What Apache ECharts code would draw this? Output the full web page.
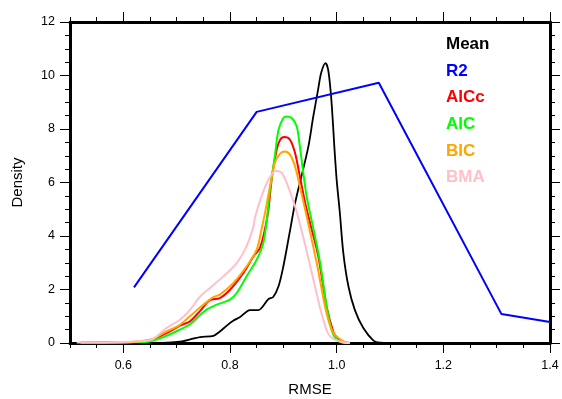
<!DOCTYPE html>
<html>
<head>
<meta charset="utf-8">
<script src="https://cdn.jsdelivr.net/npm/echarts@6/dist/echarts.min.js"></script>
<style>
html,body{margin:0;padding:0;background:#fff;}
#chart{width:562px;height:399px;}
</style>
</head>
<body>
<div id="chart"></div>
<script>
// ---- data ----
const seriesNames = ['Mean', 'R2', 'AICc', 'AIC', 'BIC', 'BMA'];
const xMajorTicks = [0.6, 0.8, 1.0, 1.2, 1.4];

const meanData = [[0.52,0],[0.6,0],[0.66,0],[0.69,0.02],[0.71,0.06],[0.731,0.16],[0.744,0.22],[0.769,0.27],[0.781,0.43],[0.794,0.65],[0.806,0.83],[0.819,0.97],[0.8375,1.23],[0.853,1.23],[0.872,1.64],[0.881,1.72],[0.891,2.12],[0.9,2.86],[0.9125,4.2],[0.922,5.23],[0.934,6.23],[0.947,7.35],[0.956,8.45],[0.965,9.45],[0.971,10.1],[0.979,10.46],[0.984,10.22],[0.989,9.35],[0.9926,8.35],[0.9956,7.35],[1.0,6.1],[1.006,4.86],[1.0125,3.36],[1.022,2.12],[1.034,1.24],[1.05,0.56],[1.069,0.09],[1.081,0.01],[1.1,0]];

const r2Data = [[0.62,2.08],[0.85,8.64],[1.079,9.73],[1.309,1.08],[1.4,0.785]];

const aiccData = [[0.52,0.01],[0.575,0.02],[0.6125,0.03],[0.65,0.1],[0.681,0.37],[0.706,0.65],[0.725,0.81],[0.744,1.2],[0.762,1.6],[0.781,1.68],[0.8,1.99],[0.825,2.62],[0.844,3.24],[0.856,3.55],[0.866,4.3],[0.872,4.98],[0.878,6.1],[0.8876,7.23],[0.894,7.6],[0.902,7.7],[0.9125,7.6],[0.922,7.1],[0.931,6.23],[0.941,5.23],[0.95,4.5],[0.9656,3.24],[0.981,1.37],[0.994,0.4],[1.0,0.22],[1.012,0.02],[1.025,0]];

const aicData = [[0.52,0.01],[0.575,0.01],[0.6125,0.02],[0.65,0.06],[0.681,0.27],[0.706,0.5],[0.725,0.7],[0.744,1.05],[0.756,1.25],[0.769,1.38],[0.787,1.52],[0.8,1.62],[0.8126,1.87],[0.831,2.49],[0.85,3.11],[0.8624,3.74],[0.869,4.6],[0.875,5.73],[0.884,6.98],[0.891,7.97],[0.9,8.41],[0.906,8.47],[0.9157,8.41],[0.925,8.1],[0.931,7.35],[0.9374,6.36],[0.944,5.45],[0.956,4.3],[0.969,3.0],[0.981,1.4],[0.991,0.45],[1.0,0.12],[1.01,0.02],[1.025,0]];

const bicData = [[0.52,0.02],[0.575,0.02],[0.6125,0.04],[0.65,0.12],[0.681,0.43],[0.706,0.68],[0.725,1.0],[0.75,1.43],[0.769,1.72],[0.781,1.81],[0.806,2.24],[0.831,2.86],[0.85,3.49],[0.859,4.24],[0.866,4.9],[0.875,5.85],[0.884,6.73],[0.894,7.08],[0.903,7.16],[0.9125,7.04],[0.922,6.6],[0.931,5.85],[0.941,4.98],[0.9626,2.99],[0.981,1.12],[0.994,0.37],[1.0125,0.06],[1.025,0]];

const bmaData = [[0.5126,0.02],[0.556,0.02],[0.6125,0.05],[0.65,0.1],[0.681,0.56],[0.706,0.87],[0.725,1.24],[0.744,1.74],[0.7625,2.06],[0.7874,2.49],[0.8126,2.99],[0.831,3.61],[0.844,4.36],[0.847,4.7],[0.859,5.48],[0.872,6.1],[0.886,6.44],[0.897,6.36],[0.909,5.85],[0.922,5.11],[0.9374,3.95],[0.956,2.4],[0.969,1.3],[0.975,0.87],[0.984,0.35],[0.994,0.15],[1.0125,0.02],[1.025,0]];

const seriesColors = ['#000000', '#0000ff', '#ff0000', '#00ff00', '#ffa500', '#ffc0cb'];
const seriesData = [meanData, r2Data, aiccData, aicData, bicData, bmaData];

// ---- chart ----
const FONT = '"Liberation Sans", Arial, Helvetica, sans-serif';
const chart = echarts.init(document.getElementById('chart'), null, {renderer: 'canvas'});

function xAxisBase(pos) {
  return {
    type: 'value', position: pos, min: 0.5, max: 1.4,
    splitLine: {show: false},
    axisLine: {show: false, onZero: false},
  };
}
const xAxes = [];
['bottom', 'top'].forEach(function (pos) {
  const a = xAxisBase(pos);
  a.interval = 0.05;
  a.axisLine = {show: true, onZero: false, lineStyle: {color: '#000', width: 3}};
  a.axisTick = {show: true, inside: false, length: 5, lineStyle: {color: '#000', width: 1}};
  a.axisLabel = {show: false};
  if (pos === 'bottom') {
    a.name = 'RMSE';
    a.nameLocation = 'middle';
    a.nameGap = 39;
    a.nameTextStyle = {color: '#000', fontSize: 15, fontFamily: FONT};
  }
  xAxes.push(a);
  const b = xAxisBase(pos);
  b.interval = 0.05;
  b.axisTick = {show: true, inside: false, length: 10, customValues: xMajorTicks, lineStyle: {color: '#000', width: 1}};
  b.axisLabel = pos === 'bottom'
    ? {show: true, customValues: xMajorTicks, margin: 16, color: '#000', fontSize: 12.5, fontFamily: FONT,
       formatter: function (v) { return Number(v).toFixed(1); }}
    : {show: false};
  xAxes.push(b);
});

function yAxis(pos) {
  return {
    type: 'value', position: pos, min: 0, max: 12, interval: 2,
    splitLine: {show: false},
    axisLine: {show: true, onZero: false, lineStyle: {color: '#000', width: 3}},
    axisTick: {show: true, inside: false, length: 10, lineStyle: {color: '#000', width: 1}},
    minorTick: {show: true, splitNumber: 4, length: 5, lineStyle: {color: '#000', width: 1}},
    axisLabel: pos === 'left'
      ? {show: true, margin: 15, color: '#000', fontSize: 12.5, fontFamily: FONT}
      : {show: false},
    name: pos === 'left' ? 'Density' : '',
    nameLocation: 'middle',
    nameGap: 45,
    nameTextStyle: {color: '#000', fontSize: 15, fontFamily: FONT}
  };
}

const series = seriesNames.map(function (name, i) {
  return {
    name: name,
    type: 'line',
    xAxisIndex: 0,
    yAxisIndex: 0,
    data: seriesData[i],
    showSymbol: false,
    symbol: 'none',
    smooth: i === 1 ? false : 0.3,
    clip: true,
    lineStyle: {color: seriesColors[i], width: i === 0 ? 1.8 : 2},
    itemStyle: {color: seriesColors[i]},
    silent: true,
    animation: false
  };
});

chart.setOption({
  animation: false,
  backgroundColor: '#ffffff',
  grid: {left: 70, right: 12, top: 22, bottom: 56, containLabel: false, outerBoundsMode: 'none'},
  xAxis: xAxes,
  yAxis: [yAxis('left'), yAxis('right')],
  legend: {
    show: true,
    orient: 'vertical',
    left: 436,
    top: 31,
    icon: 'none',
    itemWidth: 0,
    itemHeight: 16,
    itemGap: 9.6,
    selectedMode: false,
    data: seriesNames.map(function (n, i) {
      return {name: n, textStyle: {color: seriesColors[i], fontSize: 17, fontWeight: 'bold', fontFamily: FONT}};
    })
  },
  series: series
});
</script>
</body>
</html>
